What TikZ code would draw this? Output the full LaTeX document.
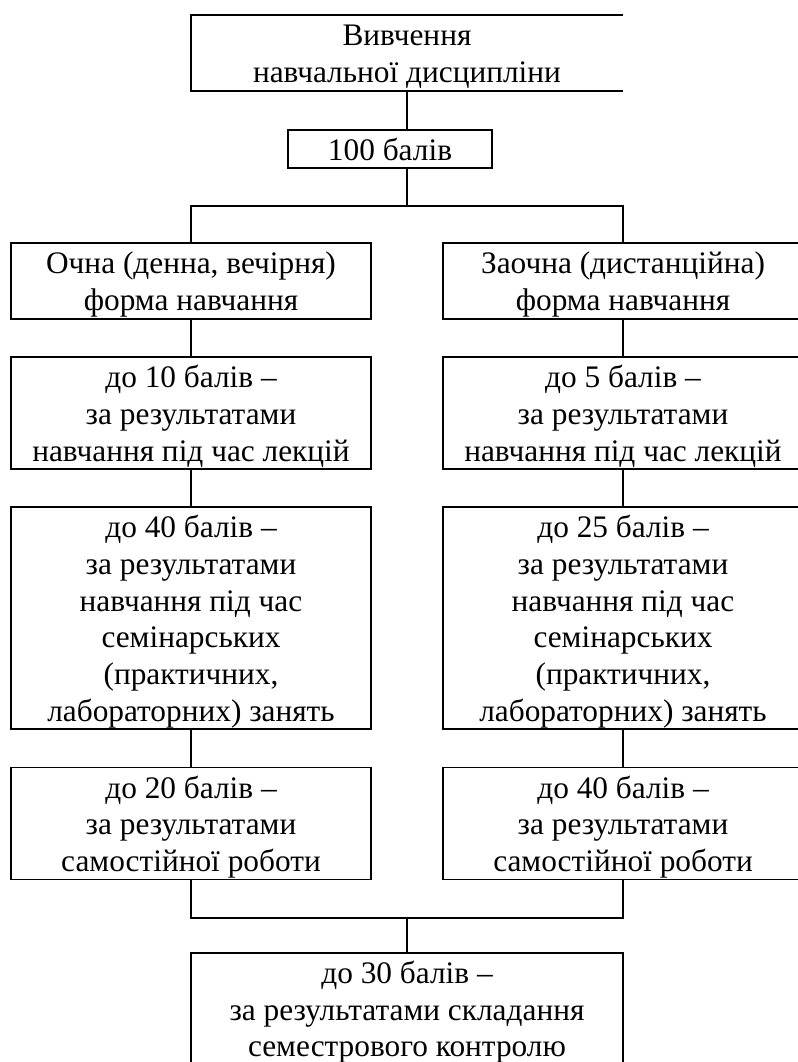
\documentclass[tikz,border=0pt]{standalone}
\usepackage{fontspec}
\setmainfont{Liberation Serif}
\newcommand{\cellup}{\rule{0pt}{23pt}}
\newcommand{\celldown}{\rule[-6pt]{0pt}{6pt}}

\begin{document}
\begin{tikzpicture}[x=0.75pt, y=-0.75pt,
	cell/.style={inner sep=0pt, align=center, font=\fontsize{23.5}{27.5}\selectfont},
	box/.style={cell, draw, line width=1.4pt},
	half/.style={box, minimum width=270pt},
	link/.style={line width=1.4pt}]
	\useasboundingbox (0,0) rectangle (798,1062);
	\coordinate (split) at (407,206);
	\coordinate (merge) at (407,918);
	
	% Top of the scheme
	\node[cell, minimum width=324pt, minimum height=57pt] (study) at (407,53) {\cellup Вивчення\\навчальної дисципліни\celldown};
	\draw[link] (study.north east) -- (study.north west) -- (study.south west) -- (study.south east);
	\node[box, minimum width=153pt, minimum height=28.5pt] (hundred) at (390,149) {\cellup 100 балів\celldown};
	
	% Full-time study
	\node[half] (full1) at (191,281) {\cellup Очна (денна, вечірня)\\форма навчання\celldown};
	\node[half] (full2) at (191,413) {\cellup до 10 балів –\\за результатами\\навчання під час лекцій\celldown};
	\node[half] (full3) at (191,618) {\cellup до 40 балів –\\за результатами\\навчання під час\\семінарських\\(практичних,\\лабораторних) занять\celldown};
	\node[half] (full4) at (191,823.5) {\cellup до 20 балів –\\за результатами\\самостійної роботи\celldown};
	
	% Distance study
	\node[half] (dist1) at (623,281) {\cellup Заочна (дистанційна)\\форма навчання\celldown};
	\node[half] (dist2) at (623,413) {\cellup до 5 балів –\\за результатами\\навчання під час лекцій\celldown};
	\node[half] (dist3) at (623,618) {\cellup до 25 балів –\\за результатами\\навчання під час\\семінарських\\(практичних,\\лабораторних) занять\celldown};
	\node[half] (dist4) at (623,823.5) {\cellup до 40 балів –\\за результатами\\самостійної роботи\celldown};
	
	\node[box, minimum width=324pt, anchor=north] (exam) at (407,952) {\cellup до 30 балів –\\за результатами складання\\семестрового контролю\rule[-9pt]{0pt}{9pt}};
	
	% Connectors
	\draw[link] (study.south) -- (study.south |- hundred.north);
	\draw[link] (hundred.south -| split) -- (split);
	\draw[link] (full1.north) |- (split) -| (dist1.north);
	\draw[link] (full1) -- (full2);
	\draw[link] (full2) -- (full3);
	\draw[link] (full3) -- (full4);
	\draw[link] (dist1) -- (dist2);
	\draw[link] (dist2) -- (dist3);
	\draw[link] (dist3) -- (dist4);
	\draw[link] (full4.south) |- (merge) -| (dist4.south);
	\draw[link] (merge) -- (exam.north);
\end{tikzpicture}
\end{document}
